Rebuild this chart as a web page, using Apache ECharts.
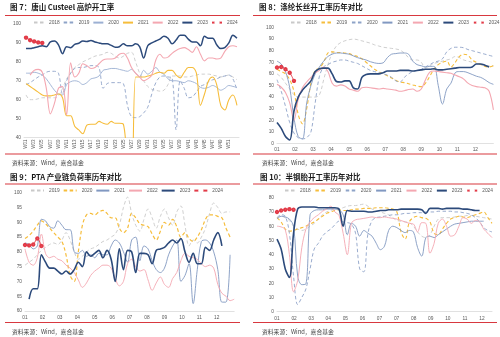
<!DOCTYPE html>
<html><head><meta charset="utf-8">
<script src="https://cdn.jsdelivr.net/npm/echarts@6/dist/echarts.min.js"></script>
<style>html,body{margin:0;padding:0;background:#fff}#c{width:500px;height:337px}</style>
</head><body><div id="c"></div>
<script>
// ---------- Panel 1: 唐山 Custeel 高炉开工率 (weekly W01..W53) ----------
const p1Weeks = Array.from({length:53},(_,i)=>'W'+String(i+1).padStart(2,'0'));
const p1_2018 = [62.5,60,60,60.5,61,61,61,61,62,66,71,74,77,78.5,80,81,82,83,83.5,84,85,84.5,83,82,83,84.5,85,80,74,70,67,65.5,65,64.5,65,68,72.5,72.5,72.5,72,72,72.5,73,73.5,73.5,73.5,73,72.5,72,72.5,73,72,70.5];
const p1_2019 = [68,69,70.5,72,73,74.5,75,75,74,63,70,74,76.5,77,77,77.5,78,78,77,66,68.5,69,69,69,68.5,57,51,50.5,51,53,56,63,69,72,72.5,72,71.5,44,70,66,61,61.5,64,67,68,69.5,70.5,71,72,72.5,73,71,65];
const p1_2020 = [74,74,74.5,74,73,71,68,65,63,62.5,68,69.5,70,69.5,68,69,71,71.5,72.5,75.5,76,76.5,76.5,76,75.5,75,76,74,72,75.5,73.5,75,77,74.5,73.5,71,70,70,69.5,69,70,69.5,68.5,66.5,66,66.5,67.5,66.5,65,66,67.5,67,66.5];
const p1_2021 = [68.5,67,65.5,64,62.5,62,62,62.5,63,61,51.5,51.5,46,44,42,46.5,47,47,48.5,47.5,47,48.5,47.5,47.5,47,25,5,72,72,72,72.5,73,74,74.5,74,75.5,75.5,73,71.5,74.5,77,77,74,57,63,70,72,68,57,54.5,60,62.5,57];
const p1_2022 = ['-',73,75.5,76,74.5,66,52.5,58,66,67,52,79.5,72,74,79,78,76.5,77,79,81,81.5,81.5,82,84,84.5,82,77,74,72,70,71,73,81,84,82,82.5,84.5,86,87,87.5,86.5,85,88,84,80.5,82,82,81.5,82,85.5,88,88.5,88];
const p1_2023 = [87,87,87.5,88,88.5,88,90.5,91,89,84.3,88,87.5,89.2,89.8,91,90.8,91.3,90.5,90,89.5,89.5,88.7,87.7,88,89.5,88.5,88.5,89.5,88,82,88.5,90,91,92,93.5,92.5,89.5,91.5,94,94,92,90.5,90.5,88.5,93.5,92.5,92.5,89,87,87.5,90,94,92.5];
const p1_2024 = [92.8,91.5,90.8,90.3,90];

// ---------- Panel 2: 涤纶长丝开工率 (weekly, index i -> month i*12/51) ----------
const p2_2018 = [60,57,52,47,42,40,40,40,40,40,42,55,68,78,84,87,88.5,89.5,90,89.5,88.5,87.5,86.5,85,84,83,82.5,82,81.5,80.5,78,74,72,72,70,65,67,69,70,71,72,73,75,74,72,71,70,69,68,67,67,67];
const p2_2019 = [64,62,60,55,45,25,17,30,52,63,65,70,78,79,78.5,78.5,78,77.5,76,75,73,70,67,64,62,60,58.5,56.5,54.5,53,52.5,51.5,50.5,49.5,49,52,58,64,68,70,71,66,70,75,77,76,72,70,68,66.5,66,67];
const p2_2020 = [55,45,32,18,9,5,4,5,10,35,58,66,68,70,71,72,72,71,70,69,67,65,63,62,61,60,59,57,54,53,57,60,62,63,64,66,68,70,71,73,79,82,83,83,82.5,81,80,79,78,77,76,75];
const p2_2021 = [71,68.5,62,48,22,6,4,35,50,60,66,71,75,77,78,78,77.5,77,75.5,74,73,72,70.5,69.5,69,69.5,74,77,77.5,78,78,77,71,68,67,66,66.5,66.5,50,34,47,52,61,62,62,61,59.5,58,57,55,52.5,51];
const p2_2022 = [51,48.5,44,35,20,38,48,53,57,61,63,66,62,52,49.5,50.5,49.5,47,46,45,48,48.5,48,47.5,47,47.5,47,46.5,46,45,45.5,46.5,47,45,47,55,61.5,62.5,62,61.5,61,60.5,59,57.5,55.5,52,50,49,48.5,48,45,29];
const p2_2023 = [18,13,6,3,28,40,46,50,54,62,64.5,65,65,60,53.5,53,54,54,48,47,57,59.5,60,60,60,61,62.5,62.5,62.5,63,63,63,62.5,63,63.5,64,64,64.5,63.5,63.5,64,64.5,65,65.5,65.5,65.5,66,68.5,68.5,67.5,66];
const p2_2024 = [65.5,66,64,61,54];

// ---------- Panel 3: PTA 产业链负荷率 ----------
const p3_2019 = [75.5,76.5,77.5,79,80.5,81.5,82.5,83,82.5,84,86.5,84,80,77.5,78.5,80,81,81.5,82.5,83.5,84,85,86,89,95,98.5,93,89,87,91,94.5,91.5,88,92,94.5,91.5,89,93.5,95.5,89,82,84,83,85,88,93,96.5,95,93,93.5,93.5];
const p3_2020 = [84.5,85.5,87,89,90.5,89.5,88,86.5,85,83.5,79,72,70,80,89,92.5,93,92.5,93.5,94,93,91.5,91.5,88,86.5,88,93,91.5,89.5,89,88.5,86,84,87,90,89,91,88.5,85,86.5,84.5,83.5,85,87.5,91,92.5,92.5,92,91.5,88,85];
const p3_2021 = [83,82.5,81,82,91,90.5,88.5,88,90.5,89,87.5,87.5,80,79.5,80.5,78.5,79,78,79.5,79,79,82,84,83,80,76.5,84,85,77,82,81,77,74,73,74.5,79,82,84,70,72,76,62.5,74,83.5,84,83,80,74,63,63,79];
const p3_2022 = [81,76.5,75.5,78,86,79.5,78,78.5,77.5,77,75.5,74.5,73,70.5,68,69.5,72,73.5,74.5,75.5,75.5,74.5,71,68.5,70,76,77.5,75,73.5,74,70.5,67,69.5,71.5,69,68,71,73,77,79.5,78.5,78,77.5,76,75,75.5,74.5,69,66,65,63.5,64];
const p3_2023 = ['-',64,67.5,67.5,79,76.5,74.5,74.5,73.5,72.5,73.5,72.5,74,76.5,75,80,78.5,79.5,80.5,78,80.5,77.5,70,81,74,80.5,80,73,79.5,79.5,79,76,80.5,81,81.5,83,84,83,84.5,80,76.5,79.5,76,76,81.5,80.5,84,86.5,82];
const p3_2024 = [82.3,82.2,82.5,84.5,82];

// ---------- Panel 4: 半钢胎开工率 (weekly index 0..52) ----------
const p4_2018 = [66,67,66,64,60,58,57,58,60,62,65,68,70,71,72,72,73,74,74.5,74.5,75,75.5,74,72,71,70,69,68,66,64,63.5,63,62.5,60,56,53,52,54,60,65,66,66,66,66.5,67,67,67.5,67.5,67,66.5,66,65.5,65];
const p4_2019 = [66,63,58,56.5,57,58,59,60,61.5,63,65,67,69,70,71,71.5,71,71,71.5,72,72,72.5,72.5,72.5,73,73,73,72.5,72,70,56,51,63,66,67,66,65.5,63,55,54,58,62,65,66,67,66.5,66,67,68,69,70,66,62];
const p4_2020 = [66,68,67,55,25,5,10,16,30,44,48,53,56,58,61,63.5,63,62.5,61.5,55,30,28,55,64,66,66.5,67,67.5,68,68,68.5,69,69,69.5,69.5,69.5,70,70,70,70.5,70.5,70.5,70.5,70,70,69.5,69,68,66,63,59,57,56];
const p4_2021 = [65,67,66.5,65,60,25,19,19.5,68,71,71.5,71.5,72,72,72,71.5,68,54,62,60,53,57,55,53,48,43.5,46,57,60,59,57,55.5,57,56,45,39,52,53,52,54,56,58,60,61.5,62,62.5,63,63.5,63.5,63.5,63.5];
const p4_2022 = [60,59.5,57.5,40,14,22,45,58,63,66,68,70.5,72,74,70,67.5,55,40,62,64.5,65,65.5,66,66.5,66,66,66.5,66,65.5,65,64,63,62,61.5,56,62.5,62,41,48,62,65,60,53,54,60,66,65,62,64,63,58,55,52];
const p4_2023 = [51,44,30,24,55,72,73.5,73.5,73.5,73.5,73,73,73,73,73,72,60,71,70.5,70.5,70.5,70.5,70,70,70.5,71,71,71.5,71.5,71.5,72,72,72,72,72,71.5,69,72.5,72.5,72.5,72,72.5,72.5,72.5,72.5,72,72,71.5,71,71];
const p4_2024 = [70,71,71.5,72,71.5];

const monthLabels = ['01','02','03','04','05','06','07','08','09','10','11','12'];
const p4Labels = ['01','02','03','04','05','06','07','07','08','09','10','11','12'];

// ---------- styling ----------
const FONT_CJK = '"Noto Sans CJK SC", "Liberation Sans", sans-serif';
const FONT_NUM = '"Liberation Sans", Arial, sans-serif';
const C = {gray:'#C9C9C9', blueDash:'#8EA3C8', steel:'#8198C1', steelL:'#9CB0D3', yellow:'#F6BD3B', pink:'#F4A7B1', navy:'#2C4A7B', red:'#E23A47'};
const DASH = [3.5,2.5];

const toMonth = arr => arr.map((v,i)=>[i*12/51, v]).filter(p=>p[1]!=='-');
const toWeek = arr => arr.map((v,i)=>[i, v]);

function mk(name, gi, data, color, o) {
  o = o || {};
  return {
    name, type:'line', xAxisIndex:gi, yAxisIndex:gi, data,
    symbol: o.marker ? 'emptyCircle' : 'none', symbolSize: 2.4, showSymbol: !!o.marker,
    smooth: 0.35, clip: true, z: o.z || 2,
    lineStyle:{color, width: o.w || 0.9, type: o.dash ? DASH : 'solid'},
    itemStyle:{color, borderWidth:0.6}
  };
}

const series = [
  mk('a_2018',0,p1_2018,C.gray,{dash:1}),
  mk('a_2019',0,p1_2019,C.blueDash,{dash:1}),
  mk('a_2020',0,p1_2020,C.steelL),
  mk('a_2021',0,p1_2021,C.yellow,{w:1.1}),
  mk('a_2022',0,p1_2022,C.pink,{w:1.1}),
  mk('a_2023',0,p1_2023,C.navy,{w:1.5}),
  mk('a_2024',0,p1_2024,C.red,{marker:1,z:3}),

  mk('b_2018',1,toMonth(p2_2018),C.gray,{dash:1}),
  mk('b_2019',1,toMonth(p2_2019),C.yellow,{dash:1,w:1.1}),
  mk('b_2020',1,toMonth(p2_2020),C.blueDash,{dash:1}),
  mk('b_2021',1,toMonth(p2_2021),C.steel),
  mk('b_2022',1,toMonth(p2_2022),C.pink,{w:1.1}),
  mk('b_2023',1,toMonth(p2_2023),C.navy,{w:1.6}),
  mk('b_2024',1,toMonth(p2_2024),C.red,{marker:1,z:3}),

  mk('c_2019',2,toMonth(p3_2019),C.gray,{dash:1}),
  mk('c_2020',2,toMonth(p3_2020),C.yellow,{dash:1,w:1.2}),
  mk('c_2021',2,toMonth(p3_2021),C.steel),
  mk('c_2022',2,toMonth(p3_2022),C.pink),
  mk('c_2023',2,toMonth(p3_2023),C.navy,{w:1.6}),
  mk('c_2024',2,toMonth(p3_2024),C.red,{marker:1,z:3}),

  mk('d_2018',3,toWeek(p4_2018),C.gray,{dash:1}),
  mk('d_2019',3,toWeek(p4_2019),C.yellow,{dash:1,w:1.1}),
  mk('d_2020',3,toWeek(p4_2020),C.blueDash,{dash:1}),
  mk('d_2021',3,toWeek(p4_2021),C.steel),
  mk('d_2022',3,toWeek(p4_2022),C.pink),
  mk('d_2023',3,toWeek(p4_2023),C.navy,{w:1.6}),
  mk('d_2024',3,toWeek(p4_2024),C.red,{marker:1,z:3})
];

function legend(prefix, left, top, iw, gap) {
  const names = series.filter(s=>s.name.startsWith(prefix+'_')).map(s=>s.name);
  return {
    left, top, padding:0, itemWidth:iw, itemHeight:4, itemGap:gap, selectedMode:false,
    formatter: n => n.slice(2),
    textStyle:{fontSize:4.8, color:'#595959', fontFamily:FONT_NUM},
    data: names.map(n => n.endsWith('2024') ? {name:n, itemStyle:{color:'#fff', borderColor:C.red, borderWidth:0.6}} : {name:n, itemStyle:{opacity:0}})
  };
}

const axLbl = {fontSize:4.8, color:'#595959', fontFamily:FONT_NUM};
const axLine = {show:true, lineStyle:{color:'#D9D9D9', width:0.8}};
function yAx(gi, min, max, step) {
  return {type:'value', gridIndex:gi, min, max, interval:step, splitLine:{show:false},
    axisLine:{show:false}, axisTick:{show:false}, axisLabel:Object.assign({margin:3}, axLbl)};
}
function xMonth(gi) {
  return {type:'value', gridIndex:gi, min:0, max:12, interval:1, splitLine:{show:false},
    axisLine:axLine, axisTick:{show:false},
    axisLabel:Object.assign({margin:4, showMaxLabel:false, formatter:v=>monthLabels[Math.round(v)]||''}, axLbl)};
}

const redLines = [[5,15.5,240,15.5],[253,15.5,497,15.5],[5,154,240,154],[253,154,497,154],
                  [5,184,240,184],[253,184,497,184],[5,322.5,240,322.5],[253,322.5,497,322.5]];
const titles = [['图 7：唐山 Custeel 高炉开工率',10,3.5],['图 8：涤纶长丝开工率历年对比',259,3.5],
                ['图 9：PTA 产业链负荷率历年对比',10,173.5],['图 10：半钢胎开工率历年对比',260,173.5]];
const sources = [[12,163],[262,163],[12,332],[262,332]];

const option = {
  animation:false,
  backgroundColor:'#fff',
  title: titles.map(t=>({text:t[0], left:t[1], top:t[2], padding:0,
    textStyle:{fontSize:7.5, fontWeight:'bold', color:'#1a1a1a', fontFamily:FONT_CJK}})),
  legend:[legend('a',33,20,10,3), legend('b',290,20,10,3.8), legend('c',30,188,13,3), legend('d',284,188,10,3.7)],
  grid:[
    {left:24, top:24, width:215, height:113.5},
    {left:277, top:27.5, width:216.4, height:116},
    {left:25, top:192.7, width:209.2, height:118.3},
    {left:277, top:197.7, width:215, height:114}
  ],
  xAxis:[
    {type:'category', gridIndex:0, data:p1Weeks, boundaryGap:true, axisLine:axLine, axisTick:{show:false},
     axisLabel:Object.assign({rotate:90, margin:2, interval:(i)=> i%2===0 && i<52}, axLbl, {fontSize:4.5})},
    xMonth(1), xMonth(2),
    {type:'value', gridIndex:3, min:0, max:52, interval:4.131, splitLine:{show:false},
     axisLine:axLine, axisTick:{show:false},
     axisLabel:Object.assign({margin:4, showMaxLabel:false, formatter:v=>p4Labels[Math.round(v/4.131)]||''}, axLbl)}
  ],
  yAxis:[yAx(0,40,100,10), yAx(1,0,100,10), yAx(2,60,100,5), yAx(3,0,80,10)],
  series,
  graphic: [
    ...redLines.map(l=>({type:'line', silent:true, shape:{x1:l[0],y1:l[1],x2:l[2],y2:l[3]}, style:{stroke:'#D8383F', lineWidth:1.2}})),
    ...sources.map(s=>({type:'text', silent:true, x:s[0], y:s[1], style:{text:'资料来源：Wind，嘉合基金', font:'5.8px '+FONT_CJK, fill:'#444', verticalAlign:'middle'}}))
  ]
};

const chart = echarts.init(document.getElementById('c'), null, {renderer:'canvas'});
chart.setOption(option);
</script></body></html>
